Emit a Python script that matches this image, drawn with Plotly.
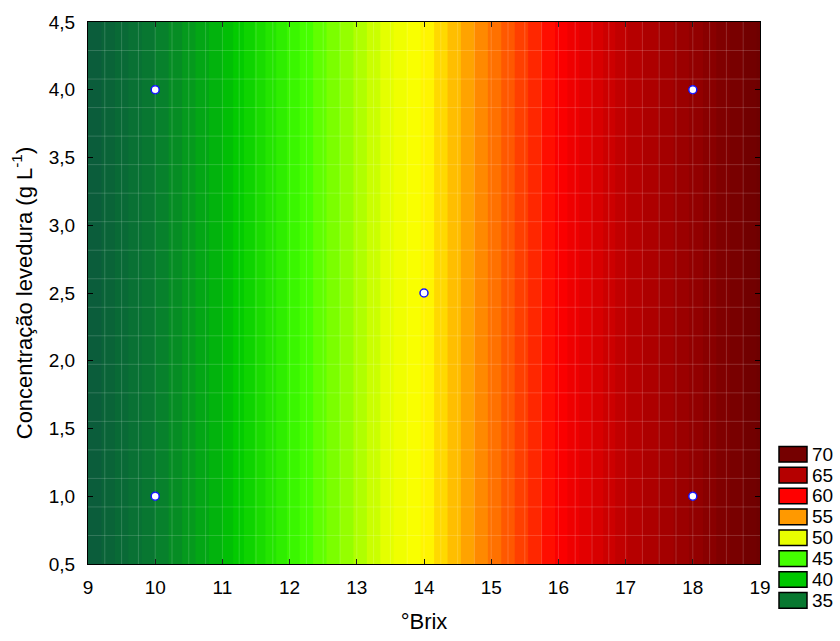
import numpy as np
import plotly.graph_objects as go

# ---- data ----
brix = [9, 10, 11, 12, 13, 14, 15, 16, 17, 18, 19]
yeast = [0.5, 4.5]
response = [31, 35, 39, 44, 48, 52, 56, 60, 64.5, 68, 72]

exp_brix = [10, 10, 14, 18, 18]
exp_yeast = [1.0, 4.0, 2.5, 1.0, 4.0]

legend_levels = [70, 65, 60, 55, 50, 45, 40, 35]
legend_colors = ["#750000", "#b50000", "#ff0000", "#ff9900",
                 "#e8ff00", "#44ff00", "#00c800", "#087830"]

x_ticks = list(range(9, 20))
y_ticks = [0.5, 1.0, 1.5, 2.0, 2.5, 3.0, 3.5, 4.0, 4.5]

# ---- colour scale ----
zmin, zmax = 31, 72
stops = [(31, "#0b5a3c"), (35, "#087a30"), (40, "#00c800"), (45, "#44ff00"),
         (50, "#e8ff00"), (52, "#ffff00"), (55, "#ff9900"), (60, "#ff0000"),
         (65, "#b80000"), (70, "#800000"), (72, "#6e0000")]
colorscale = [[(v - zmin) / (zmax - zmin), c] for v, c in stops]

Z = [response for _ in yeast]

fig = go.Figure()
fig.add_trace(go.Contour(
    x=brix, y=yeast, z=Z,
    colorscale=colorscale, zmin=zmin, zmax=zmax,
    contours=dict(start=zmin, end=zmax, size=0.8, coloring="fill", showlines=False),
    line=dict(width=0), showscale=False, hoverinfo="skip",
))

fig.add_trace(go.Scatter(
    x=exp_brix, y=exp_yeast, mode="markers",
    marker=dict(size=8, color="white", line=dict(color="#1010ff", width=1.5)),
    showlegend=False,
))

# faint mesh lines (Statistica surface mesh look)
shapes = []
mesh_x = np.arange(9.25, 19, 0.25)
mesh_y = np.linspace(0.5, 4.5, 20)[1:-1]
for mx in mesh_x:
    shapes.append(dict(type="line", xref="x", yref="y", x0=mx, x1=mx, y0=0.5, y1=4.5,
                       line=dict(color="rgba(255,255,255,0.17)", width=1), layer="above"))
for my in mesh_y:
    shapes.append(dict(type="line", xref="x", yref="y", x0=9, x1=19, y0=my, y1=my,
                       line=dict(color="rgba(255,255,255,0.17)", width=1), layer="above"))

# ---- legend boxes (drawn in pixel-derived paper coords) ----
W, H = 840, 641
L, R, T, B = 88, 80, 17, 71
pw, ph = W - L - R, H - T - B


def px_to_paper_x(px):
    return (px - L) / pw


def py_to_paper_y(py):
    return (H - B - py) / ph


FONT = "Liberation Sans"

annotations = []
top0, step, bh = 450, 21.3, 16
for i, (lvl, col) in enumerate(zip(legend_levels, legend_colors)):
    t = top0 + i * step
    shapes.append(dict(type="rect", xref="paper", yref="paper",
                       x0=px_to_paper_x(779), x1=px_to_paper_x(807),
                       y0=py_to_paper_y(t + bh), y1=py_to_paper_y(t),
                       fillcolor=col, line=dict(color="black", width=1.5)))
    annotations.append(dict(xref="paper", yref="paper", x=px_to_paper_x(810),
                            y=py_to_paper_y(t + bh / 2), text=str(lvl), showarrow=False,
                            xanchor="left", yanchor="middle",
                            font=dict(family=FONT, size=19, color="black")))

fig.update_layout(
    width=W, height=H,
    margin=dict(l=L, r=R, t=T, b=B, pad=0),
    paper_bgcolor="white", plot_bgcolor="white",
    separators=",.",
    font=dict(family=FONT, size=19, color="black"),
    shapes=shapes, annotations=annotations,
    showlegend=False,
    xaxis=dict(range=[9, 19], tickvals=x_ticks, ticks="inside", ticklen=5,
               tickcolor="black", mirror="ticks", showline=True, linecolor="black",
               linewidth=1, showgrid=False, zeroline=False, ticklabelstandoff=6,
               title=dict(text="°Brix", standoff=16,
                          font=dict(family=FONT, size=22, color="black")),
               tickfont=dict(family=FONT, size=19, color="black")),
    yaxis=dict(range=[0.5, 4.5], tickvals=y_ticks, tickformat=".1f", ticks="inside",
               ticklen=5, tickcolor="black", mirror="ticks", showline=True,
               linecolor="black", linewidth=1, showgrid=False, zeroline=False,
               ticklabelstandoff=8,
               title=dict(text="Concentração levedura (g L<sup>-1</sup>)", standoff=10,
                          font=dict(family=FONT, size=22, color="black")),
               tickfont=dict(family=FONT, size=19, color="black")),
)

fig.write_html("out.html", config={"displayModeBar": False},
               post_script="document.body.style.margin='0';document.body.style.padding='0';"
                           "document.documentElement.style.overflow='hidden';")
